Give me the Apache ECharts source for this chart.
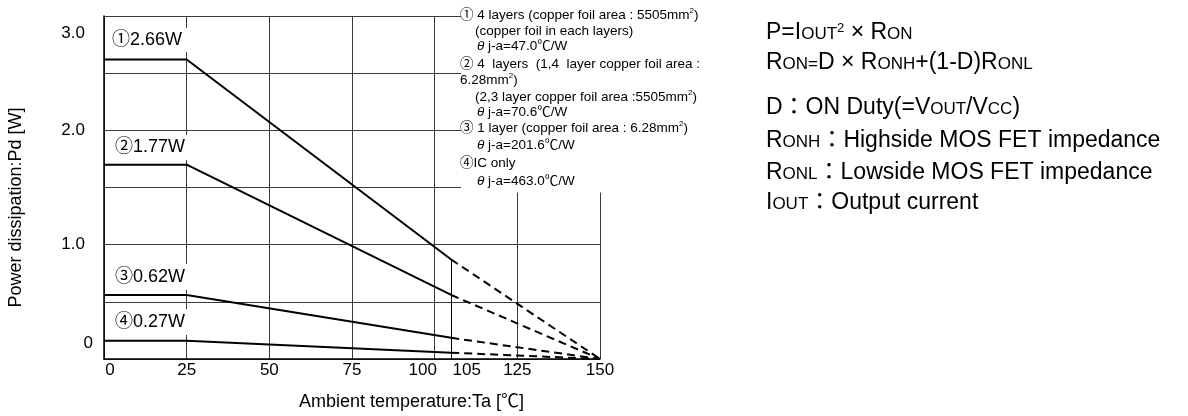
<!DOCTYPE html>
<html>
<head>
<meta charset="utf-8">
<script src="https://cdn.jsdelivr.net/npm/echarts@6/dist/echarts.min.js"></script>
<style>
html, body { margin: 0; padding: 0; background: #fff; }
#main { width: 1188px; height: 416px; }
</style>
</head>
<body>
<div id="main"></div>
<script>
// ambient temperature breakpoints (℃)
const temps = [0, 25, 105, 150]
// Pd at those temperatures (W)
const curve1 = [2.62, 2.62, 0.87, 0]
const curve2 = [1.7, 1.7, 0.56, 0]
const curve3 = [0.56, 0.56, 0.185, 0]
const curve4 = [0.16, 0.16, 0.055, 0]
const curveMarks = ['①', '②', '③', '④']
const ratedPower = ['2.66W', '1.77W', '0.62W', '0.27W']
const xTickLabels = [0, 25, 50, 75, 100, 105, 125, 150]
const yTickLabels = { 0: '0', 1: '1.0', 2: '2.0', 3: '3.0' }

const FONT = "'Liberation Sans', Arial, 'Noto Sans CJK JP', sans-serif"
const curves = [curve1, curve2, curve3, curve4]

let series = []
curves.forEach((c, i) => {
  let solid = {
    name: curveMarks[i],
    type: 'line',
    symbol: 'none',
    data: [0, 1, 2].map(k => [temps[k], c[k]]),
    lineStyle: { color: '#000', width: 2 },
    z: 5
  }
  if (i === 0) {
    // drop line at 105℃ from the first curve down to the axis
    solid.markLine = {
      silent: true,
      symbol: ['none', 'none'],
      label: { show: false },
      lineStyle: { color: '#000', width: 1, type: 'solid' },
      data: [[{ coord: [temps[2], c[2]] }, { coord: [temps[2], 0] }]]
    }
  }
  series.push(solid)
  series.push({
    name: curveMarks[i] + ' ext',
    type: 'line',
    symbol: 'none',
    data: [2, 3].map(k => [temps[k], c[k]]),
    lineStyle: { color: '#000', width: 2, type: [8, 5] },
    z: 5
  })
})

// curve labels (white boxes cut the grid lines like the original)
const labelPos = [
  { x: 108, y: 40, pad: [3, 5, 3, 4] },
  { x: 112, y: 147.5, pad: [4, 37, 3, 3] },
  { x: 111, y: 277, pad: [4, 5, 4, 4] },
  { x: 111, y: 322, pad: [4, 5, 4, 4] }
]
let graphics = labelPos.map((p, i) => ({
  type: 'text',
  x: p.x,
  y: p.y,
  z: 60,
  style: {
    text: curveMarks[i] + ratedPower[i],
    fontSize: 18,
    fontFamily: FONT,
    fill: '#000',
    verticalAlign: 'middle',
    backgroundColor: '#fff',
    padding: p.pad
  }
}))

// condition notes in the top right corner
const noteRich = {
  n: { fontSize: 13.5, fontFamily: FONT, fill: '#000' },
  th: { fontSize: 13.5, fontFamily: FONT, fontStyle: 'italic', fill: '#000' },
  u: { fontSize: 8, fontFamily: FONT, fill: '#000', padding: [0, 0, 8, 0] }
}
const noteLines = [
  [460, 15, '{n|① 4 layers (copper foil area : 5505mm}{u|2}{n|)}'],
  [475, 31, '{n|(copper foil in each layers)}'],
  [477, 46, '{th|θ}{n| j-a=47.0℃/W}'],
  [460, 64, '{n|② 4  layers  (1,4  layer copper foil area :}'],
  [460, 80, '{n|6.28mm}{u|2}{n|)}'],
  [475, 97, '{n|(2,3 layer copper foil area :5505mm}{u|2}{n|)}'],
  [477, 112, '{th|θ}{n| j-a=70.6℃/W}'],
  [460, 128, '{n|③ 1 layer (copper foil area : 6.28mm}{u|2}{n|)}'],
  [477, 145, '{th|θ}{n| j-a=201.6℃/W}'],
  [460, 163, '{n|④IC only}'],
  [477, 181, '{th|θ}{n| j-a=463.0℃/W}']
]
graphics.push({
  type: 'rect',
  shape: { x: 461, y: 0, width: 250, height: 192.5 },
  style: { fill: '#fff' },
  z: 50
})
noteLines.forEach(l => {
  graphics.push({
    type: 'text',
    x: l[0],
    y: l[1],
    z: 60,
    style: { text: l[2], rich: noteRich, verticalAlign: 'middle' }
  })
})

// formula text on the right (small caps as smaller letters on the baseline)
const formRich = {
  n: { fontSize: 23, lineHeight: 23, fontFamily: FONT, fill: '#000', verticalAlign: 'bottom' },
  s: { fontSize: 17, lineHeight: 17, fontFamily: FONT, fill: '#000', verticalAlign: 'bottom', padding: [0, 0, 1.5, 0] },
  u: { fontSize: 13, lineHeight: 13, fontFamily: FONT, fill: '#000', verticalAlign: 'top' }
}
const formLines = [
  [33, '{n|P=I}{s|OUT}{u|2}{n| × R}{s|ON}'],
  [63, '{n|R}{s|ON=}{n|D × R}{s|ONH}{n|+(1-D)R}{s|ONL}'],
  [108, '{n|D：ON Duty(=V}{s|OUT}{n|/V}{s|CC}{n|)}'],
  [141, '{n|R}{s|ONH}{n|：Highside MOS FET impedance}'],
  [173, '{n|R}{s|ONL}{n|：Lowside MOS FET impedance}'],
  [203, '{n|I}{s|OUT}{n|：Output current}']
]
formLines.forEach(l => {
  graphics.push({
    type: 'text',
    x: 766,
    y: l[0],
    z: 60,
    style: { text: l[1], rich: formRich, verticalAlign: 'middle' }
  })
})

let myChart = echarts.init(document.getElementById('main'))
let option = {
  animation: false,
  backgroundColor: '#fff',
  textStyle: { fontFamily: FONT },
  grid: { left: 104, top: 16, right: 588, bottom: 57 },
  xAxis: {
    type: 'value',
    min: 0,
    max: 150,
    interval: 25,
    name: 'Ambient temperature:Ta [℃]',
    nameLocation: 'middle',
    nameGap: 34,
    nameTextStyle: { fontSize: 18, color: '#000', fontFamily: FONT, padding: [0, 0, 0, 119] },
    axisLine: { lineStyle: { color: '#000', width: 1.5 } },
    axisTick: { show: false },
    splitLine: { lineStyle: { color: '#3a3a3a', width: 1 } },
    axisLabel: {
      customValues: xTickLabels,
      margin: 3,
      fontSize: 17,
      color: '#000',
      formatter: v => {
        if (v === 0) return '{a|0}'
        if (v === 100) return '{b|100}'
        if (v === 105) return '{c|105}'
        return '{m|' + v + '}'
      },
      rich: {
        a: { fontSize: 17, padding: [0, 0, 0, 12] },
        b: { fontSize: 17, padding: [0, 24, 0, 0] },
        c: { fontSize: 17, padding: [0, 0, 0, 31] },
        m: { fontSize: 17 }
      }
    }
  },
  yAxis: {
    type: 'value',
    min: 0,
    max: 3,
    interval: 0.5,
    name: 'Power dissipation:Pd [W]',
    nameLocation: 'middle',
    nameGap: 79,
    nameTextStyle: { fontSize: 18, color: '#000', fontFamily: FONT, padding: [0, 40, 0, 0] },
    axisLine: { show: true, lineStyle: { color: '#000', width: 1.5 } },
    axisTick: { show: false },
    splitLine: { lineStyle: { color: '#3a3a3a', width: 1 } },
    axisLabel: {
      margin: 11,
      fontSize: 17,
      color: '#000',
      formatter: v => {
        let k = Math.round(v * 10) / 10
        if (k === 3) return '{t|' + yTickLabels[3] + '}'
        if (k === 0) return '{z|' + yTickLabels[0] + '}'
        if (k === 1 || k === 2) return '{m|' + yTickLabels[k] + '}'
        return ''
      },
      rich: {
        t: { fontSize: 17, padding: [34, 8, 0, 0] },
        z: { fontSize: 17, padding: [0, 0, 31, 0] },
        m: { fontSize: 17, padding: [0, 8, 0, 0] }
      }
    }
  },
  series: series,
  graphic: graphics
}
myChart.setOption(option)
</script>
</body>
</html>
